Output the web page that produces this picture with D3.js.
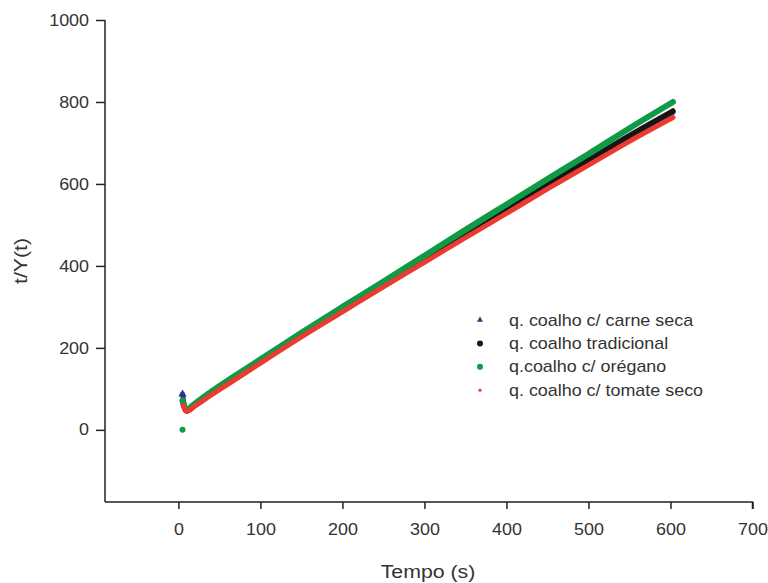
<!DOCTYPE html>
<html>
<head>
<meta charset="utf-8">
<script src="https://cdn.jsdelivr.net/npm/d3@7"></script>
<style>
  body { margin: 0; background: #fff; }
  svg { font-family: Arial, "Liberation Sans", sans-serif; }
  .axis path, .axis line { stroke: #222; stroke-width: 1.5; }
  .axis text { font-size: 16px; fill: #333; }
</style>
</head>
<body>
<svg id="chart"></svg>
<script>
// values
const xTicks = [0, 100, 200, 300, 400, 500, 600, 700];
const yTicks = [0, 200, 400, 600, 800, 1000];

const tempoCarne = [5, 7, 10, 20, 40, 70, 100, 150, 200, 250, 300, 350, 400, 450, 500, 550, 603];
const carneSeca  = [87, 62, 46, 60, 88, 128, 166, 230, 292, 353, 413, 474, 534, 595, 655, 714, 775];

const tempoTrad = [5, 10, 20, 40, 70, 100, 150, 200, 250, 300, 350, 400, 450, 500, 550, 603];
const tradicional = [70, 47, 61, 89, 129, 167, 231, 293, 354, 415, 476, 537, 598, 658, 718, 778];

const tempoOreg = [5, 7, 10, 20, 40, 70, 100, 150, 200, 250, 300, 350, 400, 450, 500, 550, 603];
const oregano   = [72, 58, 50, 64, 93, 133, 172, 237, 300, 362, 425, 488, 550, 612, 673, 736, 800];

const tempoTom = [6, 8, 10, 20, 40, 70, 100, 150, 200, 250, 300, 350, 400, 450, 500, 550, 603];
const tomate   = [60, 48, 45, 58, 85, 124, 163, 227, 288, 349, 409, 469, 528, 588, 646, 704, 762];

// isolated first reading at zero
const pontoZeroT = [5];
const pontoZeroV = [0];

const labels = ['q. coalho c/ carne seca', 'q. coalho tradicional', 'q.coalho c/ orégano', 'q. coalho c/ tomate seco'];
const colors = ['#3b2f8c', '#161616', '#0f9a45', '#eb3a30'];

const series = [
  { t: tempoCarne, v: carneSeca, color: colors[0], w: 5 },
  { t: tempoTrad, v: tradicional, color: colors[1], w: 5.5 },
  { t: tempoOreg, v: oregano, color: colors[2], w: 6 },
  { t: tempoTom, v: tomate, color: colors[3], w: 5 }
];

const width = 768, height = 583;
const margin = { left: 105, right: 16, top: 20, bottom: 81 };
const innerW = width - margin.left - margin.right;
const innerH = height - margin.top - margin.bottom;
const stretch = 1.12; // reference text is a bit wider than Arial

const svg = d3.select('#chart').attr('width', width).attr('height', height);
const chart = svg.append('g').attr('transform', `translate(${margin.left},${margin.top})`);

const x = d3.scaleLinear().domain([-89.5, 700]).range([0, innerW + 0.5]);
const y = d3.scaleLinear().domain([-176, 1000]).range([innerH, 0]);

// axes
const xAxisG = chart.append('g')
  .attr('class', 'axis x-axis')
  .attr('transform', `translate(0,${innerH})`)
  .call(d3.axisBottom(x).tickValues(xTicks).tickFormat(d3.format('d')).tickSize(7).tickPadding(15))
  .call(g => g.select('.domain').attr('d', `M0,0H${x(700)}V7`));
xAxisG.selectAll('.tick text')
  .attr('transform', `scale(${stretch},1)`);

const yAxisG = chart.append('g')
  .attr('class', 'axis y-axis')
  .call(d3.axisLeft(y).tickValues(yTicks).tickFormat(d3.format('d')).tickSize(9).tickPadding(7))
  .call(g => g.select('.domain').attr('d', `M0,0V${innerH}`));
yAxisG.selectAll('.tick text')
  .attr('x', -16 / stretch)
  .attr('transform', `scale(${stretch},1)`);

// curves (dense markers in the original look like thick lines)
const line = d3.line().x(d => x(d[0])).y(d => y(d[1])).curve(d3.curveMonotoneX);

series.forEach(s => {
  chart.append('path')
    .datum(s.t.map((t, i) => [t, s.v[i]]))
    .attr('d', line)
    .attr('fill', 'none')
    .attr('stroke', s.color)
    .attr('stroke-width', s.w)
    .attr('stroke-linejoin', 'round')
    .attr('stroke-linecap', 'round');
});

// first triangle of carne seca on top of the spike
chart.append('path')
  .attr('d', d3.symbol(d3.symbolTriangle, 30)())
  .attr('transform', `translate(${x(tempoCarne[0])},${y(carneSeca[0])})`)
  .attr('fill', colors[0]);

chart.selectAll('.zero')
  .data(pontoZeroT)
  .enter().append('circle')
  .attr('class', 'zero')
  .attr('cx', d => x(d))
  .attr('cy', (d, i) => y(pontoZeroV[i]))
  .attr('r', 3)
  .attr('fill', colors[2]);

// legend
const legend = svg.append('g').attr('transform', 'translate(480,320)');
labels.forEach((lab, i) => {
  const row = legend.append('g').attr('transform', `translate(0,${i * 23.4})`);
  if (i === 0) {
    row.append('path').attr('d', d3.symbol(d3.symbolTriangle, 16)()).attr('fill', colors[0]);
  } else {
    row.append('circle').attr('r', i === 3 ? 1.6 : 3).attr('fill', colors[i]);
  }
  row.append('text')
    .attr('transform', `translate(29,0) scale(${stretch},1)`)
    .attr('dy', '0.35em')
    .attr('font-size', '16px')
    .attr('fill', '#333')
    .text(lab);
});

// axis titles
svg.append('text')
  .attr('transform', `translate(428,578) scale(${stretch},1)`)
  .attr('font-size', '19px')
  .attr('fill', '#333')
  .attr('text-anchor', 'middle')
  .text('Tempo (s)');

svg.append('text')
  .attr('transform', `translate(27,${margin.top + innerH / 2}) rotate(-90) scale(${stretch},1)`)
  .attr('font-size', '19px')
  .attr('fill', '#333')
  .attr('text-anchor', 'middle')
  .text('t/Y(t)');
</script>
</body>
</html>
